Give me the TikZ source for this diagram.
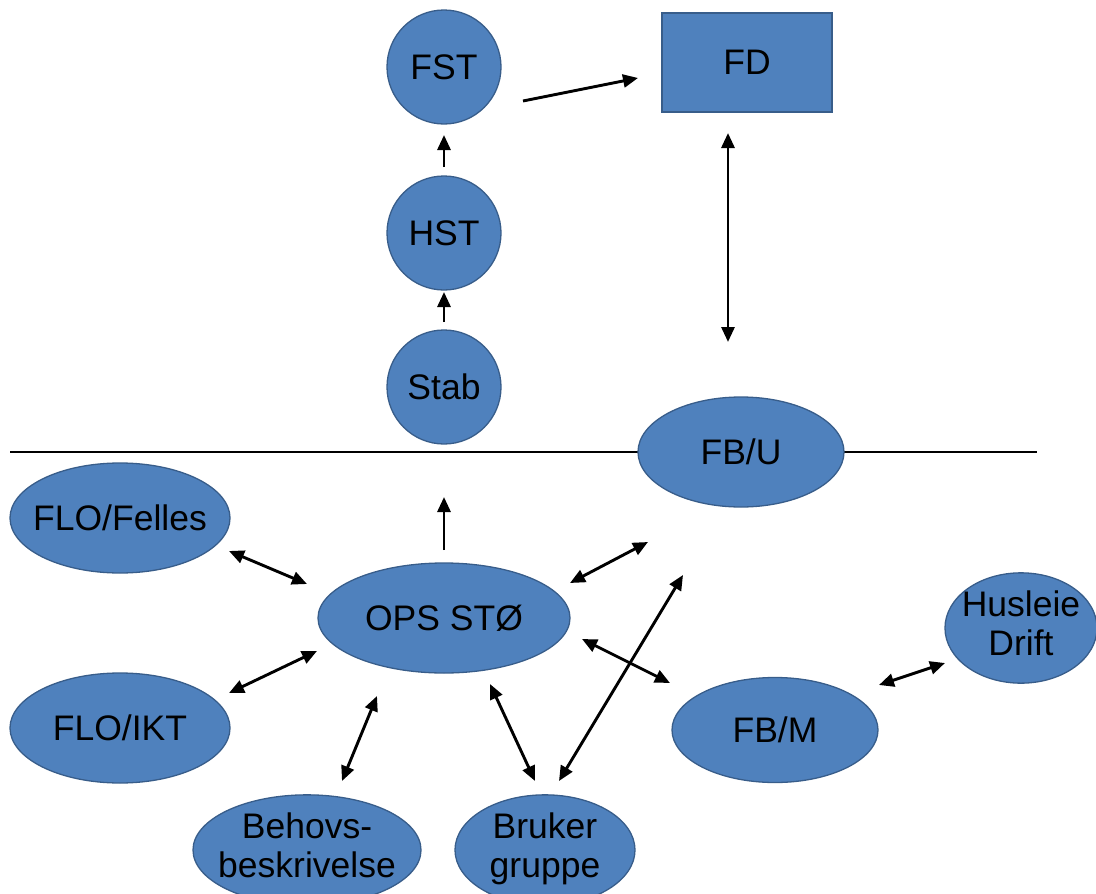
\documentclass[tikz,border=0pt]{standalone}
\usepackage{fontspec}
\setmainfont{Liberation Sans}
\usetikzlibrary{shapes.geometric,arrows.meta,calc}

\definecolor{unitfill}{HTML}{4F81BD}
\definecolor{unitedge}{HTML}{385D8A}

% zero-width label so the shape keeps its own size
\newcommand\lbl[1]{\makebox[0pt]{#1}}
\newcommand\lbltwo[2]{\makebox[0pt]{\begin{tabular}{@{}c@{}}#1\\#2\end{tabular}}}

\tikzset{
  unit/.style={draw=unitedge, line width=1.3pt, fill=unitfill, inner sep=0pt,
               text=black, font=\fontsize{35.5}{39}\selectfont},
  roundunit/.style={unit, circle, minimum size=114pt},
  ovalunit/.style 2 args={unit, ellipse, minimum width=#1, minimum height=#2},
  boxunit/.style={unit, rectangle, minimum width=170pt, minimum height=99pt},
  tip/.tip={Triangle[length=15pt,width=13pt]},
  link/.style={line width=2.9pt, -tip},
  twoway/.style={line width=2.9pt, tip-tip},
  divider/.style={line width=2.9pt}
}

\begin{document}
\begin{tikzpicture}[x=1pt,y=-1pt]
\useasboundingbox (0,0) rectangle (1096,894);

% dividing line, drawn first so FB/U sits on top of it
\coordinate (lineL) at (10,452);
\coordinate (lineR) at (1037,452);
\draw[divider] (lineL) -- (lineR);

% upper part
\node[roundunit] (fst)  at (444,67)  {\lbl{FST}};
\node[roundunit] (hst)  at (444,233) {\lbl{HST}};
\node[roundunit] (stab) at (444,387) {\lbl{Stab}};
\node[boxunit]   (fd)   at (747,62.5) {\lbl{FD}};
\node[ovalunit={206pt}{110pt}] (fbu) at (741,452) {\lbl{FB/U}};

% lower part
\node[ovalunit={220pt}{110pt}] (felles) at (120,518) {\lbl{FLO/Felles}};
\node[ovalunit={252pt}{110pt}] (ops)    at (444,618) {\lbl{OPS STØ}};
\node[ovalunit={220pt}{110pt}] (ikt)    at (120,728) {\lbl{FLO/IKT}};
\node[ovalunit={206pt}{105pt}] (fbm)    at (775,730) {\lbl{FB/M}};
\node[ovalunit={152pt}{110pt}] (hus)    at (1021,628) {\lbltwo{Husleie}{Drift}};
\node[ovalunit={228pt}{110pt}] (beh)    at (307,850) {\lbltwo{Behovs-}{beskrivelse}};
\node[ovalunit={180pt}{110pt}] (bru)    at (545,850) {\lbltwo{Bruker}{gruppe}};

% reporting arrows
\draw[link] ($(fst)+(79,34)$)   -- ($(fd)+(-109,15.5)$);
\draw[link] ($(hst)+(0,-66)$)   -- ($(fst)+(0,68)$);
\draw[link] ($(stab)+(0,-65)$)  -- ($(hst)+(0,59)$);
\draw[link] ($(ops)+(0,-68)$)   -- ($(stab)+(0,110)$);

% two-way exchanges
\draw[twoway] ($(fd)+(-19,70.5)$)   -- ($(fbu)+(-13,-110)$);
\draw[twoway] ($(felles)+(109,33)$) -- ($(ops)+(-137,-34)$);
\draw[twoway] ($(ikt)+(109,-35)$)   -- ($(ops)+(-127,33)$);
\draw[twoway] ($(ops)+(126,-35)$)   -- ($(fbu)+(-93,90)$);
\draw[twoway] ($(ops)+(138,21)$)    -- ($(fbm)+(-105,-47)$);
\draw[twoway] ($(fbm)+(104,-45)$)   -- ($(hus)+(-76,35)$);
\draw[twoway] ($(ops)+(-67,78)$)    -- ($(beh)+(35,-69)$);
\draw[twoway] ($(ops)+(46,66)$)     -- ($(bru)+(-10,-69)$);
\draw[twoway] ($(bru)+(14,-69)$)    -- ($(fbu)+(-58,123)$);
\end{tikzpicture}
\end{document}
